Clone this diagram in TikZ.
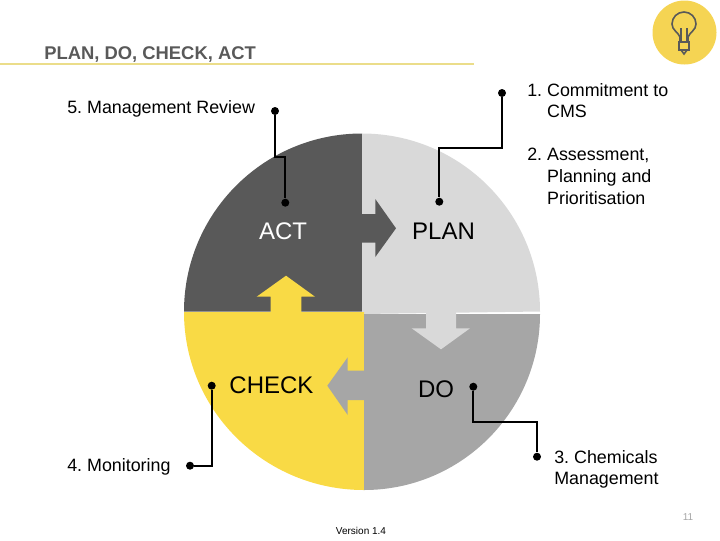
\documentclass[tikz,border=0pt]{standalone}
\usepackage{fontspec}
\setmainfont{Liberation Sans}
\frenchspacing
\definecolor{actgrey}{HTML}{595959}
\definecolor{plangrey}{HTML}{D9D9D9}
\definecolor{dogrey}{HTML}{A6A6A6}
\definecolor{checkyellow}{HTML}{F9DA45}
\definecolor{bulbyellow}{HTML}{F5D453}
\definecolor{ruleyellow}{HTML}{EBDD8A}
\tikzset{
  pin/.style={circle,fill=black,inner sep=0pt,minimum size=6pt},
  stage/.style={inner sep=0pt,font=\fontsize{18}{20}\selectfont},
  step label/.style={inner sep=0pt,align=left,anchor=north west,font=\fontsize{13.4}{16.3}\selectfont},
  lead/.style={draw=black,line width=1.5pt}
}
\begin{document}
\begin{tikzpicture}[x=0.75pt,y=-0.75pt]
  \useasboundingbox (0,0) rectangle (720,540);
  % heading
  \node[inner sep=0pt,anchor=base west,text=actgrey,font=\bfseries\fontsize{13.8}{14}\selectfont] (title) at (44,59) {PLAN, DO, CHECK, ACT};
  \draw[ruleyellow,line width=0.8pt] (0,64) -- (474,64);
  % bulb
  \fill[bulbyellow] (684.5,32.5) circle (32);
  \begin{scope}[draw=actgrey,line width=1.2pt]
    \draw (680,42) -- (680,37) .. controls (678,32) and (672,30) .. (672,24) arc (180:360:12) .. controls (696,30) and (690,32) .. (688,37) -- (688,42);
    \draw (681,28) -- (681,42) (687,28) -- (687,42);
    \draw (679,42) rectangle (689,50);
    \draw (681,50) -- (684,54) -- (687,50);
  \end{scope}
  % quadrants
  \fill[actgrey] (362,311.5) -- (184,311.5) arc (180:270:178) -- cycle;
  \fill[plangrey] (362,314) -- (362,133.5) arc (270:360:178) -- cycle;
  \fill[checkyellow] (364,312) -- (364,490) arc (90:180:180 and 178) -- cycle;
  \fill[dogrey] (364,314) -- (540,314) arc (0:90:176) -- cycle;
  % arrows
  \fill[actgrey] (360,214) -- (375.3,214) -- (375.3,199) -- (396,228.3) -- (375.3,257) -- (375.3,242.7) -- (360,242.7) -- cycle;
  \fill[plangrey] (426,312) -- (456,312) -- (456,328.3) -- (470,328.3) -- (441,349.3) -- (411.7,328.3) -- (426,328.3) -- cycle;
  \fill[dogrey] (366,370.7) -- (347.7,370.7) -- (347.7,357.3) -- (327.3,385.7) -- (347.7,415) -- (347.7,400) -- (366,400) -- cycle;
  \fill[checkyellow] (270.7,314) -- (270.7,296.7) -- (256.7,296.7) -- (286,275.7) -- (315,296.7) -- (301.3,296.7) -- (301.3,314) -- cycle;
  % stages
  \node[stage,text=white] (act) at (283,231) {ACT};
  \node[stage] (plan) at (443.5,231) {PLAN};
  \node[stage] (check) at (271.5,385.5) {CHECK};
  \node[stage] (do) at (436,389) {DO};
  % labels
  \node[step label] (s1) at (527,83) {1. Commitment to\\\phantom{1. }CMS};
  \node[step label] (s2) at (527,148) {2. Assessment,\\\phantom{2. }Planning and\\\phantom{2. }Prioritisation};
  \node[step label] (s3) at (554,450) {3. Chemicals\\Management};
  \node[step label] (s4) at (67,458) {4. Monitoring};
  \node[step label] (s5) at (67,100) {5. Management Review};
  \node[inner sep=0pt,font=\fontsize{7.5}{9}\selectfont] (version) at (361,530.5) {Version 1.4};
  \node[inner sep=0pt,text=dogrey,font=\fontsize{7.5}{9}\selectfont] (page) at (688,517) {11};
  % pins
  \draw
    (502,93) node[pin] (p1a){}
    (439.3,201.7) node[pin] (p1b){}
    (537,456.7) node[pin] (p3a){}
    (473.3,386.7) node[pin] (p3b){}
    (190,465.7) node[pin] (p4a){}
    (211.7,385.7) node[pin] (p4b){}
    (275,111) node[pin] (p5a){}
    (285.3,202.7) node[pin] (p5b){};
  \begin{scope}[lead]
    \draw (p1a) |- (470,147.7) -| (p1b);
    \draw (p3b) |- (500,421.7) -| (p3a);
    \draw (p4b) |- (p4a);
    \draw (p5a) |- (280,156.7) -| (p5b);
  \end{scope}
\end{tikzpicture}
\end{document}
